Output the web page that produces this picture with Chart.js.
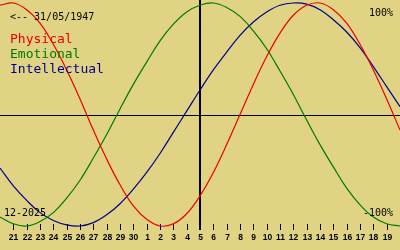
<!DOCTYPE html>
<html>
<head>
<meta charset="utf-8">
<script src="https://cdn.jsdelivr.net/npm/chart.js@4"></script>
<style>
  html, body { margin: 0; padding: 0; background: #e0d484; }
  #wrap { width: 400px; height: 250px; }
</style>
</head>
<body>
<div id="wrap"><canvas id="myChart" width="400" height="250"></canvas></div>
<script>
const BG_COLOR = "#e0d484";
const RED_COLOR = "rgb(235, 0, 0)";
const GREEN_COLOR = "rgb(0, 120, 0)";
const BLUE_COLOR = "rgb(0, 0, 140)";

// days along the bottom (first and last are off the visible ticks)
const days = ["20","21","22","23","24","25","26","27","28","29","30",
              "1","2","3","4","5","6","7","8","9","10",
              "11","12","13","14","15","16","17","18","19","20"];

const physical = [0.98, 1.00, 0.94, 0.82, 0.63, 0.40, 0.14, -0.14, -0.40, -0.63, -0.82,
                  -0.94, -1.00, -0.98, -0.89, -0.73, -0.52, -0.27, 0.00, 0.27, 0.52,
                  0.73, 0.89, 0.98, 1.00, 0.94, 0.82, 0.63, 0.40, 0.14, -0.14];

const emotional = [-0.92, -0.98, -1.00, -0.96, -0.88, -0.75, -0.59, -0.39, -0.18, 0.05, 0.27,
                   0.47, 0.66, 0.81, 0.92, 0.98, 1.00, 0.96, 0.88, 0.75, 0.59,
                   0.39, 0.18, -0.05, -0.27, -0.47, -0.66, -0.81, -0.92, -0.98, -1.00];

const intellectual = [-0.48, -0.64, -0.77, -0.88, -0.95, -0.99, -1.00, -0.97, -0.90, -0.80, -0.67,
                      -0.52, -0.35, -0.16, 0.03, 0.22, 0.40, 0.56, 0.71, 0.83, 0.92,
                      0.98, 1.00, 0.99, 0.94, 0.85, 0.74, 0.60, 0.43, 0.25, 0.07];

const legend_lines = [["Physical", RED_COLOR], ["Emotional", GREEN_COLOR], ["Intellectual", BLUE_COLOR]];
const today_index = 15;

const overlay = {
    id: "overlay",
    beforeDatasetsDraw(chart) {
        let ctx = chart.ctx;
        let x = chart.scales.x;
        let y = chart.scales.y;
        ctx.save();
        ctx.fillStyle = "#000";
        // zero line
        let y0 = Math.round(y.getPixelForValue(0));
        ctx.fillRect(0, y0, 400, 1);
        // today line
        let xt = Math.round(x.getPixelForValue(today_index));
        ctx.fillRect(xt - 1, 0, 2, 230);
        // ticks + day labels
        ctx.font = "bold 8.5px 'Liberation Sans'";
        ctx.textAlign = "center";
        ctx.textBaseline = "alphabetic";
        for (let i = 1; i < days.length - 1; i++) {
            let px = Math.round(x.getPixelForValue(i));
            ctx.fillRect(px, 224, 1, 6);
            ctx.fillText(days[i], px + 0.5, 240);
        }
        ctx.restore();
    },
    afterDatasetsDraw(chart) {
        let ctx = chart.ctx;
        ctx.save();
        ctx.fillStyle = "#000";
        ctx.font = "10px 'DejaVu Sans Mono'";
        ctx.textAlign = "left";
        ctx.fillText("<-- 31/05/1947", 10, 20);
        ctx.fillText("12-2025", 4, 216);
        ctx.textAlign = "right";
        ctx.fillText("100%", 393, 16);
        ctx.fillText("-100%", 393, 216);
        ctx.textAlign = "left";
        ctx.font = "13px 'DejaVu Sans Mono'";
        legend_lines.forEach((l, i) => {
            ctx.fillStyle = l[1];
            ctx.fillText(l[0], 10, 43 + i * 15);
        });
        ctx.restore();
    }
};

function makeDataset(label, data, color) {
    return {
        label: label,
        data: data,
        borderColor: color,
        backgroundColor: color,
        borderWidth: 1.2,
        pointRadius: 0,
        tension: 0.4,
        fill: false,
        clip: false
    };
}

let ctx = document.getElementById("myChart").getContext("2d");
let my_chart = new Chart(ctx, {
    type: "line",
    data: {
        labels: days,
        datasets: [
            makeDataset("Physical", physical, RED_COLOR),
            makeDataset("Emotional", emotional, GREEN_COLOR),
            makeDataset("Intellectual", intellectual, BLUE_COLOR)
        ]
    },
    options: {
        responsive: false,
        animation: false,
        devicePixelRatio: 1,
        layout: { padding: 0 },
        plugins: {
            legend: { display: false },
            tooltip: { enabled: false }
        },
        scales: {
            x: { display: false, offset: false },
            y: { display: false, min: -1.2152, max: 1.0269 }
        }
    },
    plugins: [
        {
            id: "bg",
            beforeDraw(chart) {
                chart.ctx.save();
                chart.ctx.fillStyle = BG_COLOR;
                chart.ctx.fillRect(0, 0, chart.width, chart.height);
                chart.ctx.restore();
            }
        },
        overlay
    ]
});
</script>
</body>
</html>
